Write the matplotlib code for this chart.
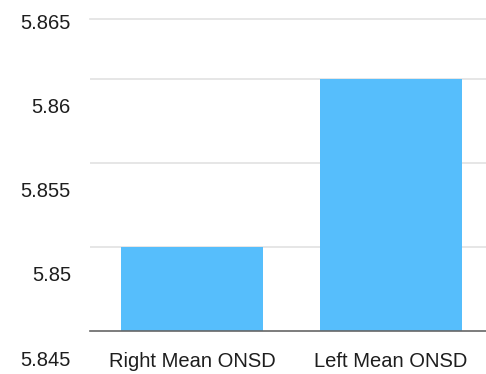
import matplotlib
matplotlib.use("Agg")
import matplotlib.pyplot as plt
import matplotlib.transforms as mtransforms

# Mean optic nerve sheath diameter (mm)
categories = ["Right Mean ONSD", "Left Mean ONSD"]
values = [5.85, 5.86]
tick_values = [5.845, 5.85, 5.855, 5.86, 5.865]
tick_labels = ["5.845", "5.85", "5.855", "5.86", "5.865"]

bar_color = "#56BEFC"
grid_color = "#e2e2e2"
text_color = "#1e1e1e"

plt.rcParams["font.family"] = ["Liberation Sans", "DejaVu Sans"]

fig = plt.figure(figsize=(4.86, 3.74), dpi=100)
ax = fig.add_axes([90 / 486, 43 / 374, 396 / 486, 312 / 374])

ax.set_ylim(5.845, 5.86357)
ax.set_xlim(-0.513, 1.477)

ax.bar(range(len(categories)), values, width=0.714, color=bar_color, zorder=2)

# horizontal gridlines
for v in tick_values[1:-1]:
    ax.axhline(v, color=grid_color, lw=1.2, zorder=1)

for side in ["left", "right"]:
    ax.spines[side].set_visible(False)
ax.spines["top"].set_color(grid_color)
ax.spines["top"].set_linewidth(1.2)
ax.spines["bottom"].set_color("#666666")
ax.spines["bottom"].set_linewidth(1.2)
ax.spines["bottom"].set_zorder(3)

ax.set_xticks(range(len(categories)))
ax.set_xticklabels(categories, fontsize=14.5, color=text_color)
ax.tick_params(axis="x", length=0, pad=15)
ax.set_yticks([])

# value axis labels, set slightly below their gridlines
offset = mtransforms.ScaledTranslation(0, -29 / 100, fig.dpi_scale_trans)
trans = ax.get_yaxis_transform() + offset
for v, lab in zip(tick_values, tick_labels):
    ax.text(-0.048, v, lab, transform=trans, ha="right", va="center",
            fontsize=14.5, color=text_color, clip_on=False)

fig.savefig("out.png", dpi=100)
